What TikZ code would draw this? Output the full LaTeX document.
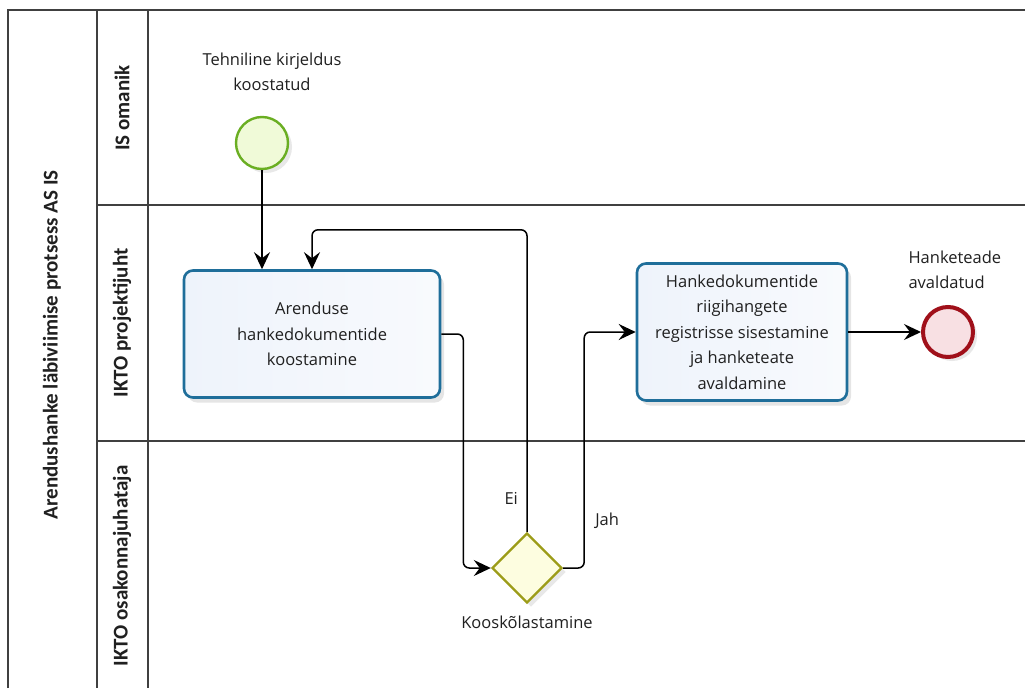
\documentclass[tikz,border=0pt]{standalone}
\usepackage{fontspec}
\setmainfont{Open Sans}
\newfontfamily\lanefont{Carlito}
\usetikzlibrary{arrows.meta,shapes.geometric,shadows,positioning}

\definecolor{poolline}{HTML}{404040}
\definecolor{taskline}{HTML}{1F6E9A}
\definecolor{taskfill}{HTML}{EEF3FB}
\definecolor{startline}{HTML}{6AAE22}
\definecolor{startfill}{HTML}{F0FAD8}
\definecolor{endline}{HTML}{A0101A}
\definecolor{endfill}{HTML}{F8E0E3}
\definecolor{gateline}{HTML}{9C9C18}
\definecolor{gatefill}{HTML}{FDFDE0}
\definecolor{txt}{HTML}{202020}

\tikzset{%
  % Specifications for style of nodes:
       task/.style = {rectangle, rounded corners=9pt, draw=taskline, line width=2.6pt, left color=taskfill, right color=white!60!taskfill, minimum width=256pt, minimum height=127pt, align=center, text=txt, font=\fontsize{16.5}{25.5}\selectfont, drop shadow={shadow xshift=4pt, shadow yshift=-5pt, opacity=0.2}},
    startev/.style = {circle, draw=startline, line width=2.4pt, fill=startfill, minimum size=52pt, drop shadow={shadow xshift=4pt, shadow yshift=-4pt, opacity=0.18}},
      endev/.style = {circle, draw=endline, line width=4pt, fill=endfill, minimum size=50pt, drop shadow={shadow xshift=4pt, shadow yshift=-4pt, opacity=0.18}},
       gate/.style = {diamond, draw=gateline, line width=2.4pt, fill=gatefill, minimum width=70pt, minimum height=70pt, inner sep=0pt, drop shadow={shadow xshift=4pt, shadow yshift=-4pt, opacity=0.18}},
    evtext/.style = {align=center, text=txt, font=\fontsize{16.5}{25}\selectfont},
   lanetext/.style = {rotate=90, text=txt, font=\lanefont\bfseries\fontsize{21}{24}\selectfont},
       flow/.style = {-{Stealth[length=17pt, width=16pt, inset=6pt]}, line width=1.5pt, rounded corners=6pt},
       pool/.style = {draw=poolline, line width=1.4pt},
}

\begin{document}
\begin{tikzpicture}[x=1pt, y=-1pt]
    \useasboundingbox[fill=white] (0,0) rectangle (1025,688);

    % Draw pool and lanes
    \draw[pool] (8,688) -- (8,10) -- (1025,10);
    \draw[pool] (97,10) -- (97,688);
    \draw[pool] (148,10) -- (148,688);
    \draw[pool] (97,205) -- (1025,205);
    \draw[pool] (97,441) -- (1025,441);

    \node (pooltitle)   [lanetext] at (52,345)  {Arendushanke läbiviimise protsess AS IS};
    \node (laneowner)   [lanetext] at (122,108) {IS omanik};
    \node (laneproject) [lanetext] at (122,323) {IKTO projektijuht};
    \node (lanehead)    [lanetext] at (122,566) {IKTO osakonnajuhataja};

    % Draw nodes
    \node (start)   [startev] at (262,143) {};
    \node (compile) [task]    at (312,334) {Arenduse\\hankedokumentide\\koostamine};
    \node (gw)      [gate]    at (527,568) {};
    \node (publish) [task, minimum width=210pt, minimum height=137pt] at (742,332) {Hankedokumentide\\riigihangete\\registrisse sisestamine\\ja hanketeate\\avaldamine};
    \node (finish)  [endev]   at (948,332) {};

    \node (starttext)  [evtext] at (272,72) {Tehniline kirjeldus\\koostatud};
    \node (finishtext) [evtext, align=left, anchor=west] at (905,270) {Hanketeade\\avaldatud};
    \node (gwtext)     [evtext, below=8pt of gw] {Kooskõlastamine};

    % Draw arrows
    \draw[flow] (start.south) -- (start.south |- compile.north);
    \draw[flow] (compile.east) -- ++(22,0) |- (gw.west);
    \draw[flow] (gw.north) -- node[evtext, pos=0.11, left=5pt] {Ei} ++(0,-302) -| (compile.north);
    \draw[flow] (gw.east) -- ++(21,0) |- node[evtext, pos=0.1, right=7pt] {Jah} (publish.west);
    \draw[flow] (publish.east) -- (finish.west);

\end{tikzpicture}
\end{document}
